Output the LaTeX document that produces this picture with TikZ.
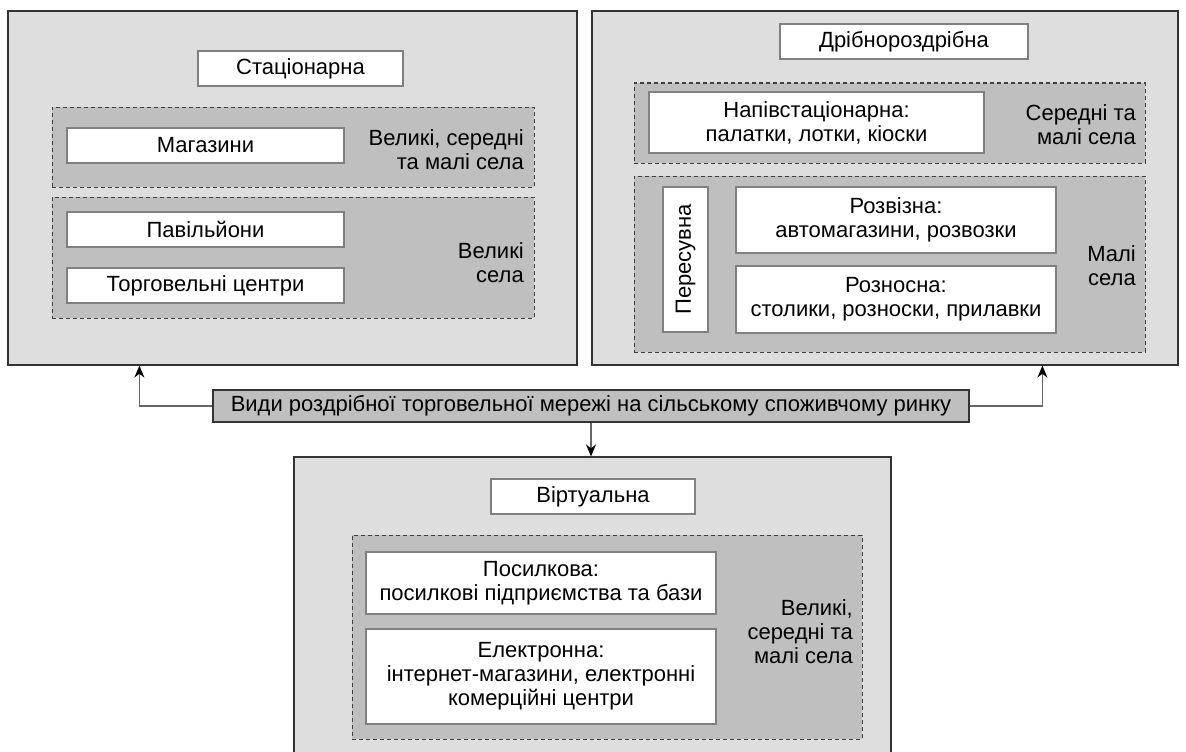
\documentclass[tikz,border=0pt]{standalone}
\usepackage{fontspec}
\setmainfont{Liberation Sans}
\usetikzlibrary{arrows.meta}

\begin{document}
\begin{tikzpicture}[x=1pt, y=-1pt,
        every node/.style={font=\fontsize{22}{24}\selectfont},
        outerbox/.style={draw=black!80, fill=black!13, line width=1.2pt, inner sep=0pt},
        zonebox/.style={draw=black!75, fill=black!25, dash pattern=on 4pt off 3pt, line width=1pt, inner sep=0pt},
        itembox/.style={draw=black!50, fill=white, line width=1.5pt, inner sep=0pt, align=center},
        zonelabel/.style={anchor=east, align=right, inner sep=0pt},
        conn/.style={draw=black!60, line width=1.5pt, -{Stealth[black,length=12pt,width=10pt]}}]
        \useasboundingbox (0,0) rectangle (1186,752);

        % three groups
        \node[outerbox, minimum width=569pt, minimum height=354pt] (lgroup) at (292.5,188) {};
        \node[outerbox, minimum width=586pt, minimum height=354pt] (rgroup) at (885,188) {};
        \node[outerbox, minimum width=597pt, minimum height=313pt] (vgroup) at (592.5,613.5) {};

        % stationary
        \node[itembox, minimum width=205pt, minimum height=35pt] (stat) at (300.5,68.5) {Стаціонарна};
        \node[zonebox, minimum width=482pt, minimum height=80pt] (lzone1) at (293,147) {};
        \node[zonebox, minimum width=482pt, minimum height=121pt] (lzone2) at (293,257.5) {};
        \node[itembox, minimum width=277pt, minimum height=35pt] (shops) at (205.5,145.5) {Магазини};
        \node[itembox, minimum width=277pt, minimum height=35pt] (pavil) at (205.5,229.5) {Павільйони};
        \node[itembox, minimum width=277pt, minimum height=35pt] (centres) at (205.5,285.5) {Торговельні центри};
        \node[zonelabel] (llab1) at (524,150) {Великі, середні\\та малі села};
        \node[zonelabel] (llab2) at (524,263) {Великі\\села};

        % small retail
        \node[itembox, minimum width=248pt, minimum height=35pt] (small) at (904,41.5) {Дрібнороздрібна};
        \node[zonebox, minimum width=511pt, minimum height=80pt] (rzone1) at (889.5,123) {};
        \node[zonebox, minimum width=511pt, minimum height=176pt] (rzone2) at (889.5,264) {};
        \node[itembox, minimum width=335pt, minimum height=61pt] (semi) at (816.5,122.5) {Напівстаціонарна:\\палатки, лотки, кіоски};
        \node[itembox, rotate=90, minimum width=145pt, minimum height=45pt] (mobile) at (685.5,259.5) {Пересувна};
        \node[itembox, minimum width=320pt, minimum height=66pt] (deliv) at (896,220) {Розвізна:\\автомагазини, розвозки};
        \node[itembox, minimum width=320pt, minimum height=67pt] (carry) at (896,299.5) {Розносна:\\столики, розноски, прилавки};
        \node[zonelabel] (rlab1) at (1136,125) {Середні та\\малі села};
        \node[zonelabel] (rlab2) at (1136,266) {Малі\\села};

        % virtual
        \node[itembox, minimum width=204pt, minimum height=35pt] (virt) at (593,496.5) {Віртуальна};
        \node[zonebox, minimum width=510pt, minimum height=204pt] (vzone) at (607,637) {};
        \node[itembox, minimum width=350pt, minimum height=62pt] (mail) at (541,583) {Посилкова:\\посилкові підприємства та бази};
        \node[itembox, minimum width=350pt, minimum height=95pt] (online) at (541,676.5) {Електронна:\\інтернет-магазини, електронні\\комерційні центри};
        \node[zonelabel] (vlab) at (853,632) {Великі,\\середні та\\малі села};

        % main
        \node[draw=black!80, fill=black!25, line width=1.2pt, minimum width=756pt, minimum height=32pt, inner sep=0pt] (main) at (591,406) {Види роздрібної торговельної мережі на сільському споживчому ринку};

        \draw[conn] (main.west) -| ([xshift=132pt]lgroup.south west);
        \draw[conn] (main.east) -| ([xshift=451pt]rgroup.south west);
        \draw[conn] (main.south) -- (main.south |- vgroup.north);
    \end{tikzpicture}
\end{document}
